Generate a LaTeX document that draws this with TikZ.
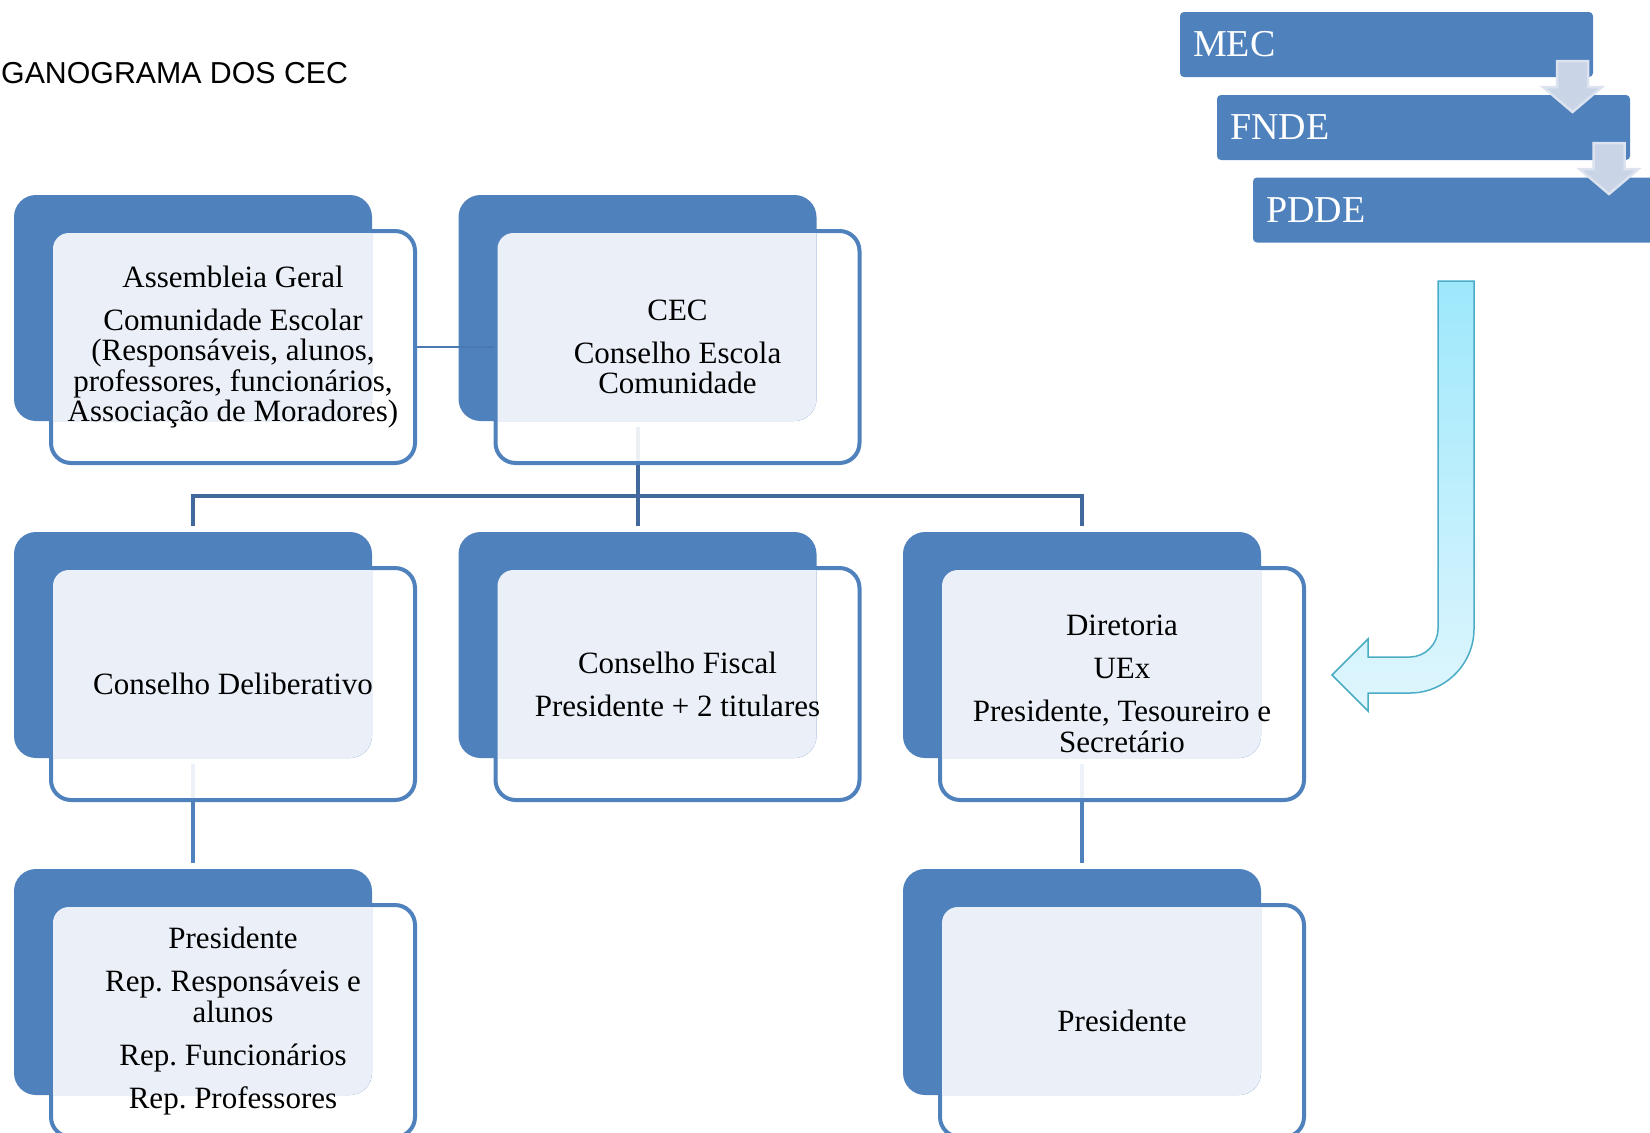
\documentclass[tikz,border=0pt]{standalone}
\usepackage{fontspec}
\setmainfont{Liberation Serif}
\newfontfamily\titlefont{Liberation Sans}
\frenchspacing
\pgfdeclarelayer{background}
\pgfsetlayers{background,main}
\definecolor{accblue}{HTML}{4F81BD}
\definecolor{lightfill}{HTML}{EBF0F8}
\definecolor{bardark}{HTML}{41699D}
\definecolor{linkblue}{HTML}{4A78B2}
\definecolor{arrowfill}{HTML}{C9D4E7}
\definecolor{arrowedge}{HTML}{DCE3EF}
\definecolor{cyanedge}{HTML}{4BACC6}
\definecolor{cyantop}{HTML}{9DE8FC}
\definecolor{cyanbot}{HTML}{E0F6FD}
\tikzset{
  backbox/.style={rectangle, fill=accblue, inner sep=0pt, minimum width=358pt, minimum height=226pt, rounded corners=22pt},
  framebox/.style={rectangle, draw=accblue, line width=4pt, fill=white, fill opacity=0.9, inner sep=0pt, minimum width=364pt, minimum height=232pt, rounded corners=20pt},
  boxtext/.style={inner sep=0pt, align=center, text=black, font=\fontsize{31}{30.5}\selectfont},
  stagebox/.style={rectangle, fill=accblue, rounded corners=4pt, inner sep=0pt, minimum width=413pt, minimum height=65pt, text width=387pt, align=left, text=white, font=\fontsize{38}{40}\selectfont},
  conn/.style={draw=accblue, line width=4pt},
  connbar/.style={draw=bardark, line width=4pt},
  linkline/.style={draw=linkblue, line width=2pt},
  downarr/.style={fill=arrowfill, draw=arrowedge, line width=2.5pt, line join=miter},
  curvearrow/.style={draw=cyanedge, line width=1.5pt, top color=cyantop, bottom color=cyanbot}
}
\newcommand\orgback[3]{%
  \node[framebox] (#1W) at ({#2+219},{#3+152}) {};
  \node[backbox] (#1B) at ({#2+179},{#3+113}) {};
}
\newcommand\orgfront[4]{%
  \fill[lightfill] ({#2+39},{#3+226}) -- ({#2+39},{#3+54})
     .. controls ({#2+39},{#3+45}) and ({#2+46},{#3+38}) .. ({#2+55},{#3+38})
     -- ({#2+358},{#3+38}) -- ({#2+358},{#3+204})
     .. controls ({#2+358},{#3+216}) and ({#2+348},{#3+226}) .. ({#2+336},{#3+226}) -- cycle;
  \node[boxtext] (#1T) at (#1W.center) {#4};
}
\begin{document}
\begin{tikzpicture}[x=1pt,y=-1pt]
\useasboundingbox (0,0) rectangle (1650,1133);
\clip (0,0) rectangle (1650,1133);

% title
\node[anchor=base west, inner sep=0pt, font=\titlefont\fontsize{30.3}{32}\selectfont] (title) at (1,83) {GANOGRAMA DOS CEC};

% stage boxes
\node[stagebox] (mec) at (1386.5,44.5) {MEC};
\node[stagebox] (fnde) at (1423.5,127.5) {FNDE};
\node[stagebox] (pdde) at (1459.5,210) {PDDE};
\draw[downarr] (1557,61) -- ++(0,26) -- ++(-14,0) -- ++(29.5,25) -- ++(29.5,-25) -- ++(-14,0) -- ++(0,-26) -- cycle;
\draw[downarr, shift={(36.5,82)}] (1557,61) -- ++(0,26) -- ++(-14,0) -- ++(29.5,25) -- ++(29.5,-25) -- ++(-14,0) -- ++(0,-26) -- cycle;

% curved arrow
\draw[curvearrow] (1438,281) -- (1474,281) -- (1474,629)
   .. controls (1474,664) and (1445,693) .. (1410,693)
   -- (1368,693) -- (1368,711) -- (1332,675) -- (1368,639) -- (1368,657) -- (1410,657)
   .. controls (1425,657) and (1438,644) .. (1438,629) -- cycle;

% org boxes
\orgback{ag}{14}{195}
\orgback{cec}{458.5}{195}
\orgback{cd}{14}{532}
\orgback{cf}{458.5}{532}
\orgback{dir}{903}{532}
\orgback{pa}{14}{869}
\orgback{pb}{903}{869}

\coordinate (barY) at (0,496);
\begin{pgfonlayer}{background}
  \draw[connbar] ([yshift=-6pt]cecB.south) -- (cecB.south |- barY);
  \draw[connbar] ([yshift=6pt]cdB.north) -- (cdB.north |- barY) -- (dirB.north |- barY) -- ([yshift=6pt]dirB.north);
  \draw[connbar] ([yshift=6pt]cfB.north) -- (cfB.north |- barY);
  \draw[conn] ([yshift=-6pt]cdB.south) -- ([yshift=6pt]paB.north);
  \draw[conn] ([yshift=-6pt]dirB.south) -- ([yshift=6pt]pbB.north);
\end{pgfonlayer}
\draw[linkline] (agW.east) -- (agW.east -| cecW.west);

\orgfront{ag}{14}{195}{Assembleia Geral\\[12.5pt]Comunidade Escolar\\(Responsáveis, alunos,\\professores, funcionários,\\Associação de Moradores)}
\orgfront{cec}{458.5}{195}{CEC\\[12.5pt]Conselho Escola\\Comunidade}
\orgfront{cd}{14}{532}{Conselho Deliberativo}
\orgfront{cf}{458.5}{532}{Conselho Fiscal\\[12.5pt]Presidente + 2 titulares}
\orgfront{dir}{903}{532}{Diretoria\\[12.5pt]UEx\\[12.5pt]Presidente, Tesoureiro e\\Secretário}
\orgfront{pa}{14}{869}{Presidente\\[12.5pt]Rep. Responsáveis e\\alunos\\[12.5pt]Rep. Funcionários\\[12.5pt]Rep. Professores}
\orgfront{pb}{903}{869}{Presidente}
\end{tikzpicture}
\end{document}
